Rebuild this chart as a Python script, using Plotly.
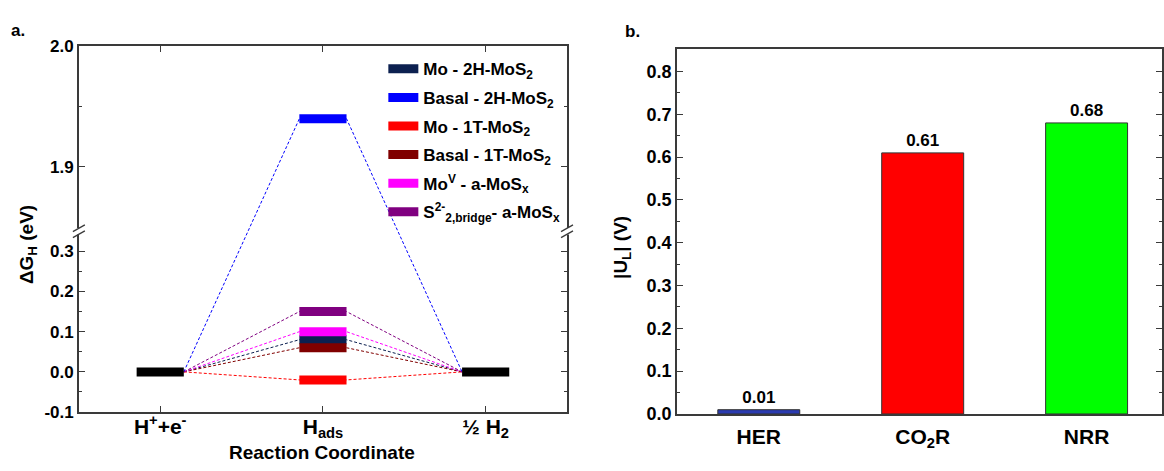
import plotly.graph_objects as go

W, H = 1164, 471

# ---------------- Panel a data ----------------
steps = ["H<sup>+</sup>+e<sup>-</sup>", "H<sub>ads</sub>", "½ H<sub>2</sub>"]
step_pos = [1, 2, 3]
series_names = [
    "Mo - 2H-MoS<sub>2</sub>",
    "Basal - 2H-MoS<sub>2</sub>",
    "Mo - 1T-MoS<sub>2</sub>",
    "Basal - 1T-MoS<sub>2</sub>",
    "Mo<sup>V</sup> - a-MoS<sub>x</sub>",
    "S<sup>2-</sup><sub>2,bridge</sub>- a-MoS<sub>x</sub>",
]
dG_hads = [0.08, 1.94, -0.02, 0.06, 0.10, 0.15]
dG_start = 0.0
dG_end = 0.0
series_colors = ["#0c2050", "#0000ff", "#ff0000", "#800000", "#ff00ff", "#800080"]

y_major_a = [-0.1, 0.0, 0.1, 0.2, 0.3, 1.9, 2.0]
y_minor_a = [-0.05, 0.05, 0.15, 0.25, 1.95]

# ---------------- Panel b data ----------------
reactions = ["HER", "CO<sub>2</sub>R", "NRR"]
UL = [0.01, 0.61, 0.68]
bar_colors = ["#2b3bb0", "#ff0000", "#00ff00"]

# ---------------- broken-axis transform ----------------
LOW_TOP, UP_BOT, GAP, UP_SCALE = 0.34, 1.85, 0.02, 3.0


def tf(v):
    if v is None:
        return None
    if v <= LOW_TOP + 1e-9:
        return v
    return LOW_TOP + GAP + (v - UP_BOT) * UP_SCALE


HW = 0.145  # half width of energy levels (x units)
FONT = "Liberation Sans"
AXC = "#3a3a3a"

fig = go.Figure()

# connectors
for name, v, c in zip(series_names, dG_hads, series_colors):
    fig.add_trace(go.Scatter(
        x=[step_pos[0] + HW, step_pos[1] - HW, step_pos[1] + HW, step_pos[2] - HW],
        y=[tf(dG_start), tf(v), tf(v), tf(dG_end)],
        mode="lines", line=dict(color=c, width=1, dash="3px,2px"),
        showlegend=False, hoverinfo="skip", xaxis="x", yaxis="y"))

# initial / final levels
fig.add_trace(go.Scatter(
    x=[step_pos[0] - HW, step_pos[0] + HW, None, step_pos[2] - HW, step_pos[2] + HW],
    y=[tf(dG_start), tf(dG_start), None, tf(dG_end), tf(dG_end)],
    mode="lines", line=dict(color="black", width=9),
    showlegend=False, xaxis="x", yaxis="y"))

# intermediate levels
for i, (name, v, c) in enumerate(zip(series_names, dG_hads, series_colors)):
    fig.add_trace(go.Scatter(
        x=[step_pos[1] - HW, step_pos[1] + HW], y=[tf(v), tf(v)],
        mode="lines", line=dict(color=c, width=9), name=name,
        legendgroup=f"g{i}", xaxis="x", yaxis="y"))

# ---------------- Panel b bars ----------------
fig.add_trace(go.Bar(
    x=list(range(len(reactions))), y=UL, width=0.5,
    marker=dict(color=bar_colors, line=dict(color="#333333", width=1)),
    text=[f"{v:.2f}" for v in UL], textposition="outside",
    textfont=dict(family=FONT, size=17, color="black", weight="bold"),
    cliponaxis=False, showlegend=False, xaxis="x2", yaxis="y2"))

tickfont_a = dict(family=FONT, size=17, color="black", weight="bold")
tickfont_x = dict(family=FONT, size=21, color="black", weight="bold")

ya_dom = [1 - 420 / H, 1 - 39 / H]
yb_dom = [1 - 422 / H, 1 - 42 / H]

fig.update_layout(
    width=W, height=H,
    margin=dict(l=0, r=0, t=0, b=0),
    paper_bgcolor="white", plot_bgcolor="white",
    font=dict(family=FONT, color="black"),
    xaxis=dict(domain=[79 / W, 568 / W], range=[0.5, 3.5],
               tickvals=step_pos, ticktext=steps, tickfont=tickfont_x,
               ticks="inside", ticklen=6, tickcolor=AXC, mirror="ticks",
               ticklabelstandoff=-5,
               showline=True, linecolor=AXC, linewidth=1.5, showgrid=False,
               zeroline=False, anchor="y"),
    yaxis=dict(domain=ya_dom, range=[-0.1, tf(2.0)],
               tickvals=[tf(v) for v in y_major_a],
               ticktext=[f"{v:.1f}" for v in y_major_a], tickfont=tickfont_a,
               ticks="inside", ticklen=6, tickcolor=AXC, mirror="ticks",
               minor=dict(tickvals=[tf(v) for v in y_minor_a], ticks="inside",
                          ticklen=3, tickcolor=AXC, showgrid=False),
               showline=True, linecolor=AXC, linewidth=1.5, showgrid=False,
               zeroline=False, anchor="x"),
    xaxis2=dict(domain=[678 / W, 1.0], range=[-0.5, 2.46],
                tickvals=list(range(len(reactions))), ticktext=reactions,
                tickfont=tickfont_x, ticks="", mirror=True,
                ticklabelstandoff=3,
                showline=True, linecolor=AXC, linewidth=1.5, showgrid=False,
                zeroline=False, anchor="y2"),
    yaxis2=dict(domain=yb_dom, range=[0, 0.852], dtick=0.1, tick0=0,
                tickformat=".1f", tickfont=dict(family=FONT, size=18, color="black", weight="bold"),
                ticks="inside", ticklen=6, tickcolor=AXC, mirror="ticks",
                minor=dict(dtick=0.05, ticks="inside", ticklen=3, tickcolor=AXC),
                showline=True, linecolor=AXC, linewidth=1.5, showgrid=False,
                zeroline=False, anchor="x2"),
    legend=dict(x=384 / W, y=1 - 44 / H, xanchor="left", yanchor="top",
                bgcolor="rgba(0,0,0,0)", font=dict(family=FONT, size=17, color="black", weight="bold"),
                tracegroupgap=3.5, itemwidth=30),
    showlegend=True,
)

# axis breaks on panel a
shapes = []
lw_dom = 489.0
for xd in (0.0, 1.0):
    shapes.append(dict(type="rect", xref="x domain", yref="y",
                       x0=xd - 3 / lw_dom, x1=xd + 3 / lw_dom,
                       y0=LOW_TOP + 0.002, y1=LOW_TOP + GAP - 0.002,
                       fillcolor="white", line=dict(width=0), layer="above"))
    for y0 in (LOW_TOP - 0.006, LOW_TOP + 0.009):
        shapes.append(dict(type="line", xref="x domain", yref="y",
                           x0=xd - 6 / lw_dom, x1=xd + 6 / lw_dom,
                           y0=y0, y1=y0 + 0.017,
                           line=dict(color=AXC, width=1.3), layer="above"))
fig.update_layout(shapes=shapes)

ann_font = dict(family=FONT, size=19, color="black", weight="bold")
fig.update_layout(annotations=[
    dict(text="a.", x=18 / W, y=1 - 22 / H, xref="paper", yref="paper",
         showarrow=False, xanchor="center", yanchor="middle",
         font=dict(family=FONT, size=17, color="black", weight="bold")),
    dict(text="b.", x=634 / W, y=1 - 23 / H, xref="paper", yref="paper",
         showarrow=False, xanchor="center", yanchor="middle",
         font=dict(family=FONT, size=17, color="black", weight="bold")),
    dict(text="Reaction Coordinate", x=322.5 / W, y=1 - 462 / H, xref="paper", yref="paper",
         showarrow=False, xanchor="center", yanchor="middle", font=ann_font),
    dict(text="ΔG<sub>H</sub> (eV)", x=28 / W, y=1 - 245 / H, xref="paper", yref="paper",
         showarrow=False, xanchor="center", yanchor="middle", textangle=-90, font=ann_font),
    dict(text="|U<sub>L</sub>| (V)", x=623 / W, y=1 - 248 / H, xref="paper", yref="paper",
         showarrow=False, xanchor="center", yanchor="middle", textangle=-90, font=ann_font),
])

fig.write_html("out.html")
